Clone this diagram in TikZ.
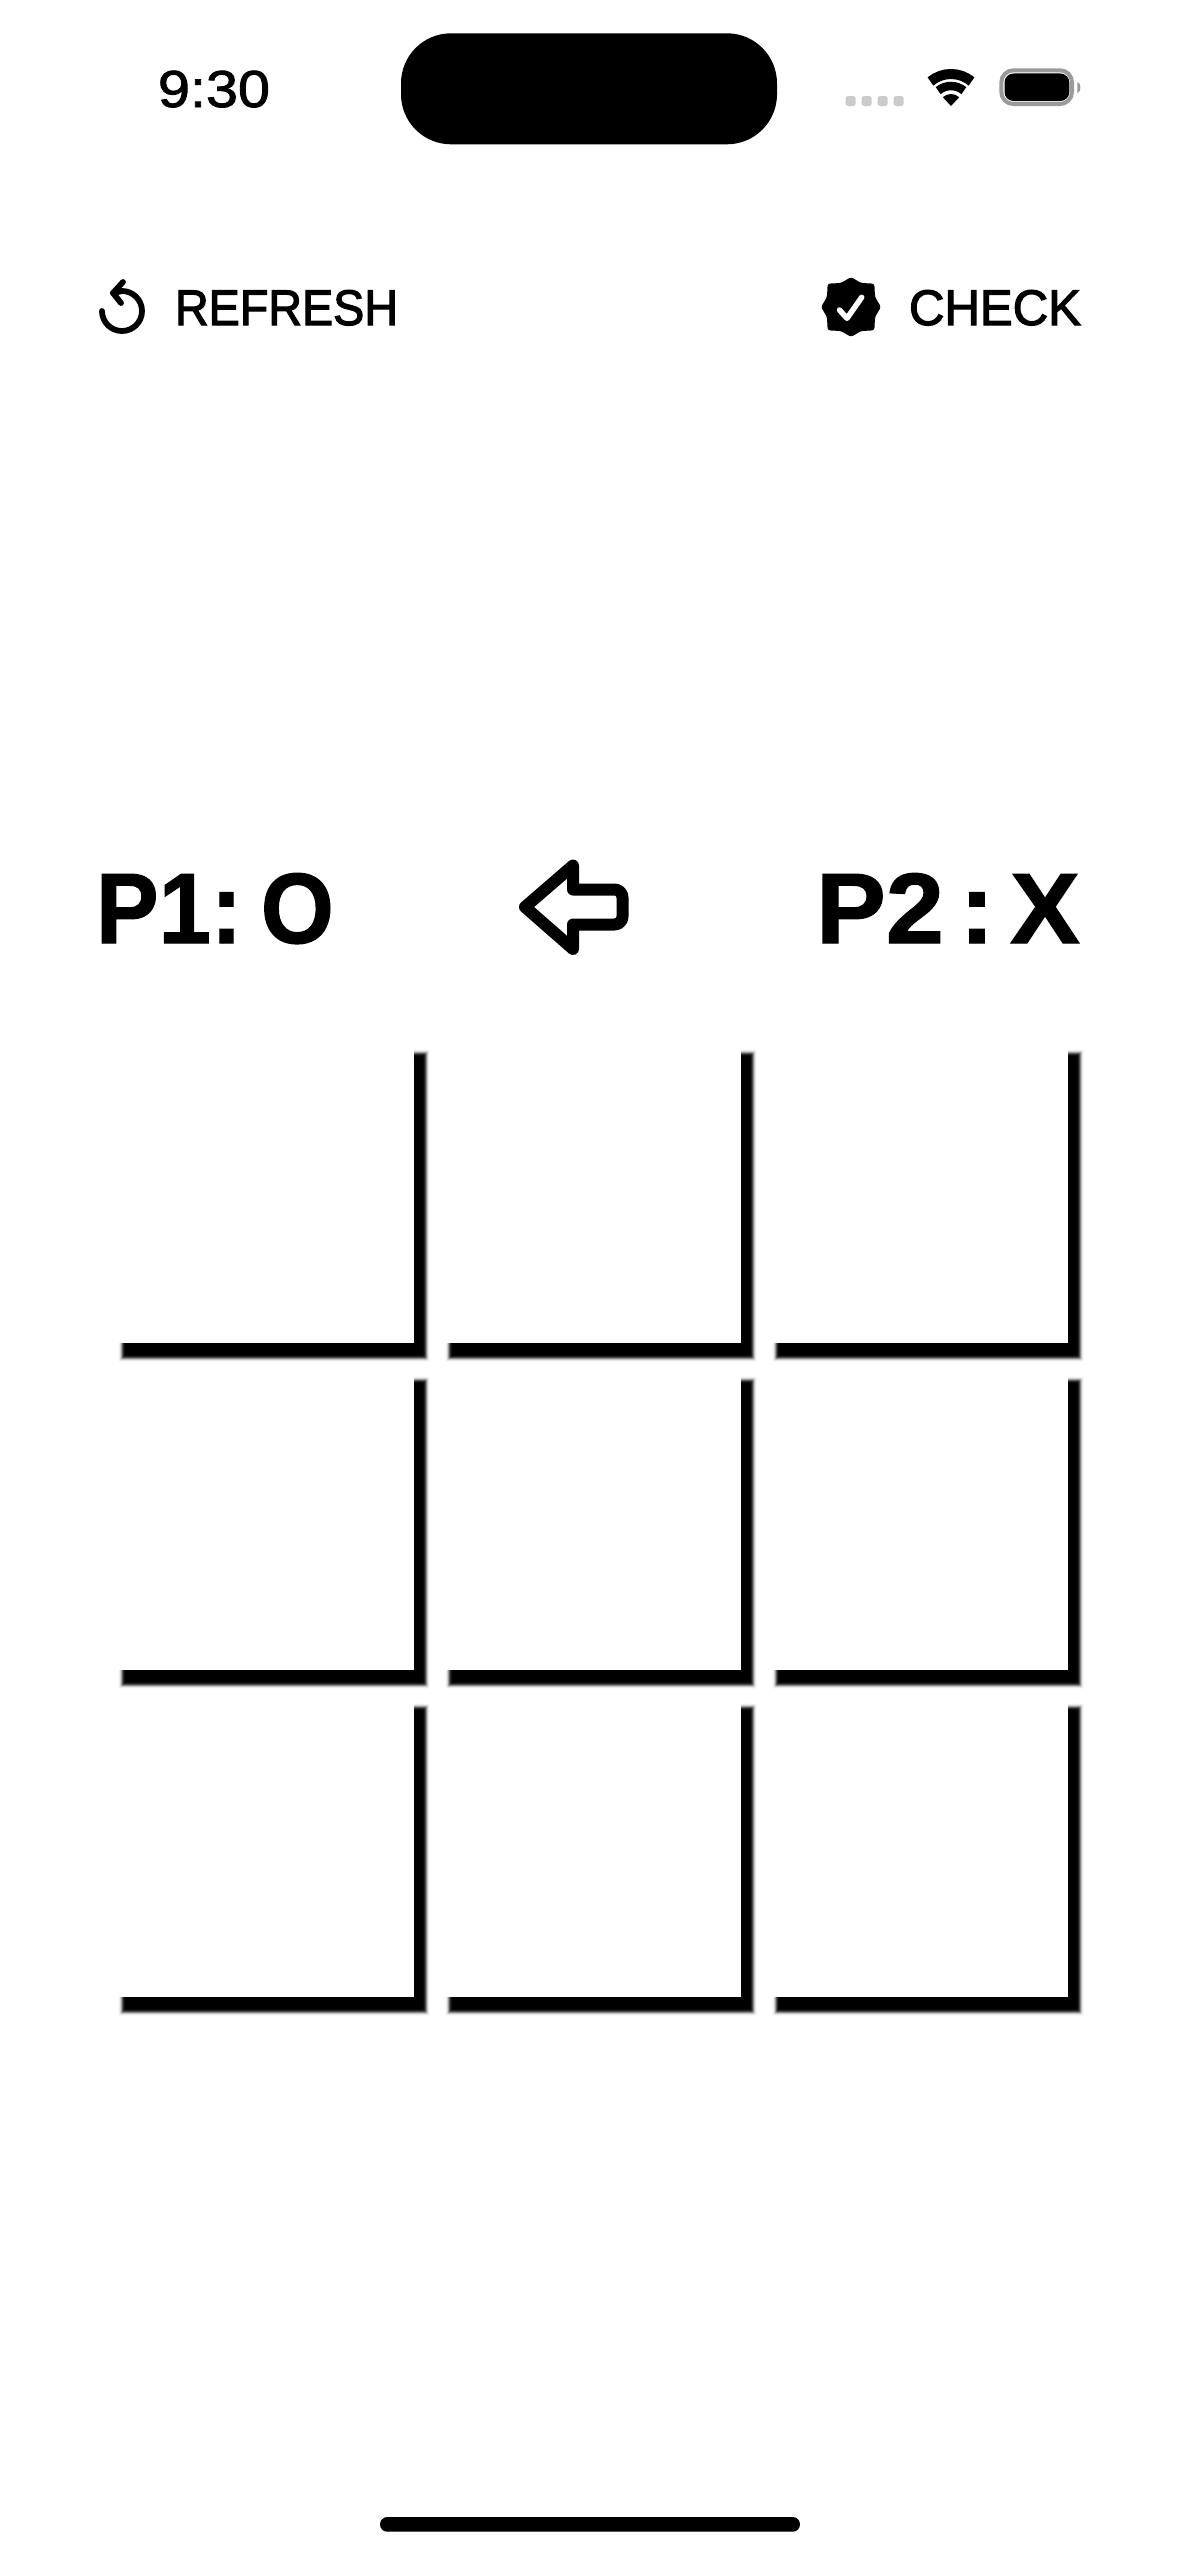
\documentclass[tikz,border=0pt]{standalone}
\usepackage{graphicx}
\usepackage{fontspec}
\setmainfont{Liberation Sans}
\newfontfamily\medfont[FakeBold=2.4]{Liberation Sans}
\newfontfamily\timefont[FakeBold=1.6]{Liberation Sans}
\newfontfamily\boldfont[FakeBold=1.2]{Liberation Sans Bold}
\newcommand{\fitw}[2]{\resizebox{#1}{\height}{#2}}
\definecolor{dotgray}{HTML}{CBCBCB}
\definecolor{batgray}{HTML}{9A9A9A}
\tikzset{
  label base/.style={anchor=base west,inner sep=0pt,outer sep=0pt,text=black},
  action/.style={label base,font=\fontsize{50}{50}\selectfont\medfont},
  player/.style={label base,font=\fontsize{100}{100}\selectfont\boldfont},
  icon line/.style={draw=black,line cap=round,line join=round},
  signal dot/.style={fill=dotgray,rounded corners=2.5pt}
}
\begin{document}
\begin{tikzpicture}[x=1pt,y=-1pt]
\fill[white] (0,0) rectangle (1179,2556);
\useasboundingbox (0,0) rectangle (1179,2556);
% status bar
\node[label base,font=\fontsize{52}{52}\selectfont\timefont] (time) at (158,107) {\fitw{112pt}{9:30}};
\fill[black,rounded corners=50pt] (401,33.3) rectangle (777,144.3);
\foreach \x in {850.7,866.7,882.7,898.7}
  \fill[signal dot] (\x-5,96) rectangle (\x+5,106);
% wifi
\begin{scope}[shift={(951,106)},y=1pt]
  \draw[black,line width=10pt] (50:32pt) arc[start angle=50,end angle=130,radius=32pt];
  \draw[black,line width=8.5pt] (50:20pt) arc[start angle=50,end angle=130,radius=20pt];
  \fill[black] (0,0) -- (47:12pt) arc[start angle=47,end angle=133,radius=12pt] -- cycle;
\end{scope}
% battery
\draw[batgray,line width=4pt,rounded corners=12pt] (1001.3,70.3) rectangle (1072,104);
\fill[black,rounded corners=9pt] (1004.5,73.5) rectangle (1069.3,101);
\fill[batgray] (1077.3,81.7) .. controls (1081.5,83) and (1081.5,92) .. (1077.3,93.3) -- cycle;
% refresh
\begin{scope}[shift={(122,311)},y=1pt]
  \draw[icon line,line width=5.8pt] (-20,0) arc[start angle=180,end angle=450,radius=20pt] -- (-9,18);
  \draw[icon line,line width=5.8pt] (1,29) -- (-9,18) -- (-1,8);
\end{scope}
\node[action] (refresh) at (175,325) {\fitw{223pt}{REFRESH}};
% check badge
\begin{scope}[shift={(851,307)},y=1pt]
  \fill[black,rounded corners=2.5pt]
    (90:30pt) -- (67.5:26pt) -- (45:33pt) -- (22.5:26pt) -- (0:30pt) -- (-22.5:26pt) -- (-45:33pt)
    -- (-67.5:26pt) -- (-90:30pt) -- (-112.5:26pt) -- (-135:33pt) -- (-157.5:26pt) -- (180:30pt)
    -- (157.5:26pt) -- (135:33pt) -- (112.5:26pt) -- cycle;
  \draw[white,line width=5.5pt,line cap=round,line join=round] (-11.5,-3) -- (-4,-11.3) -- (10.7,9.7);
\end{scope}
\node[action] (check) at (909,325) {\fitw{172pt}{CHECK}};
% players
\node[player] (pone) at (96,943) {\fitw{238pt}{P1:\hspace{.2em}O}};
\node[player] (ptwo) at (816,943) {\fitw{264pt}{P2\hspace{.15em}:\hspace{.15em}X}};
% turn arrow
\draw[icon line,line width=12pt] (525,907) -- (573,865.5) -- (573,889.5)
  [rounded corners=8pt] -- (622.5,889.5) -- (622.5,924.5) [sharp corners] -- (573,924.5) -- (573,949) -- cycle;
% board
\foreach \row in {0,1,2} \foreach \col in {0,1,2} {
  \begin{scope}[shift={(\col*327,\row*327)}]
    \foreach \d/\g in {4/4,3/12,2/30,1/55,0/78,-1/92,-2/98,-3/100}
      \fill[black!\g,rounded corners=1pt] (122.5-\d,1053.5-\d) rectangle (425.5+\d,1357.5+\d);
    \fill[white] (112,1043) rectangle (414,1343);
  \end{scope}
}
% home indicator
\fill[black,rounded corners=7.3pt] (380,2517) rectangle (800,2531.7);
\end{tikzpicture}
\end{document}
